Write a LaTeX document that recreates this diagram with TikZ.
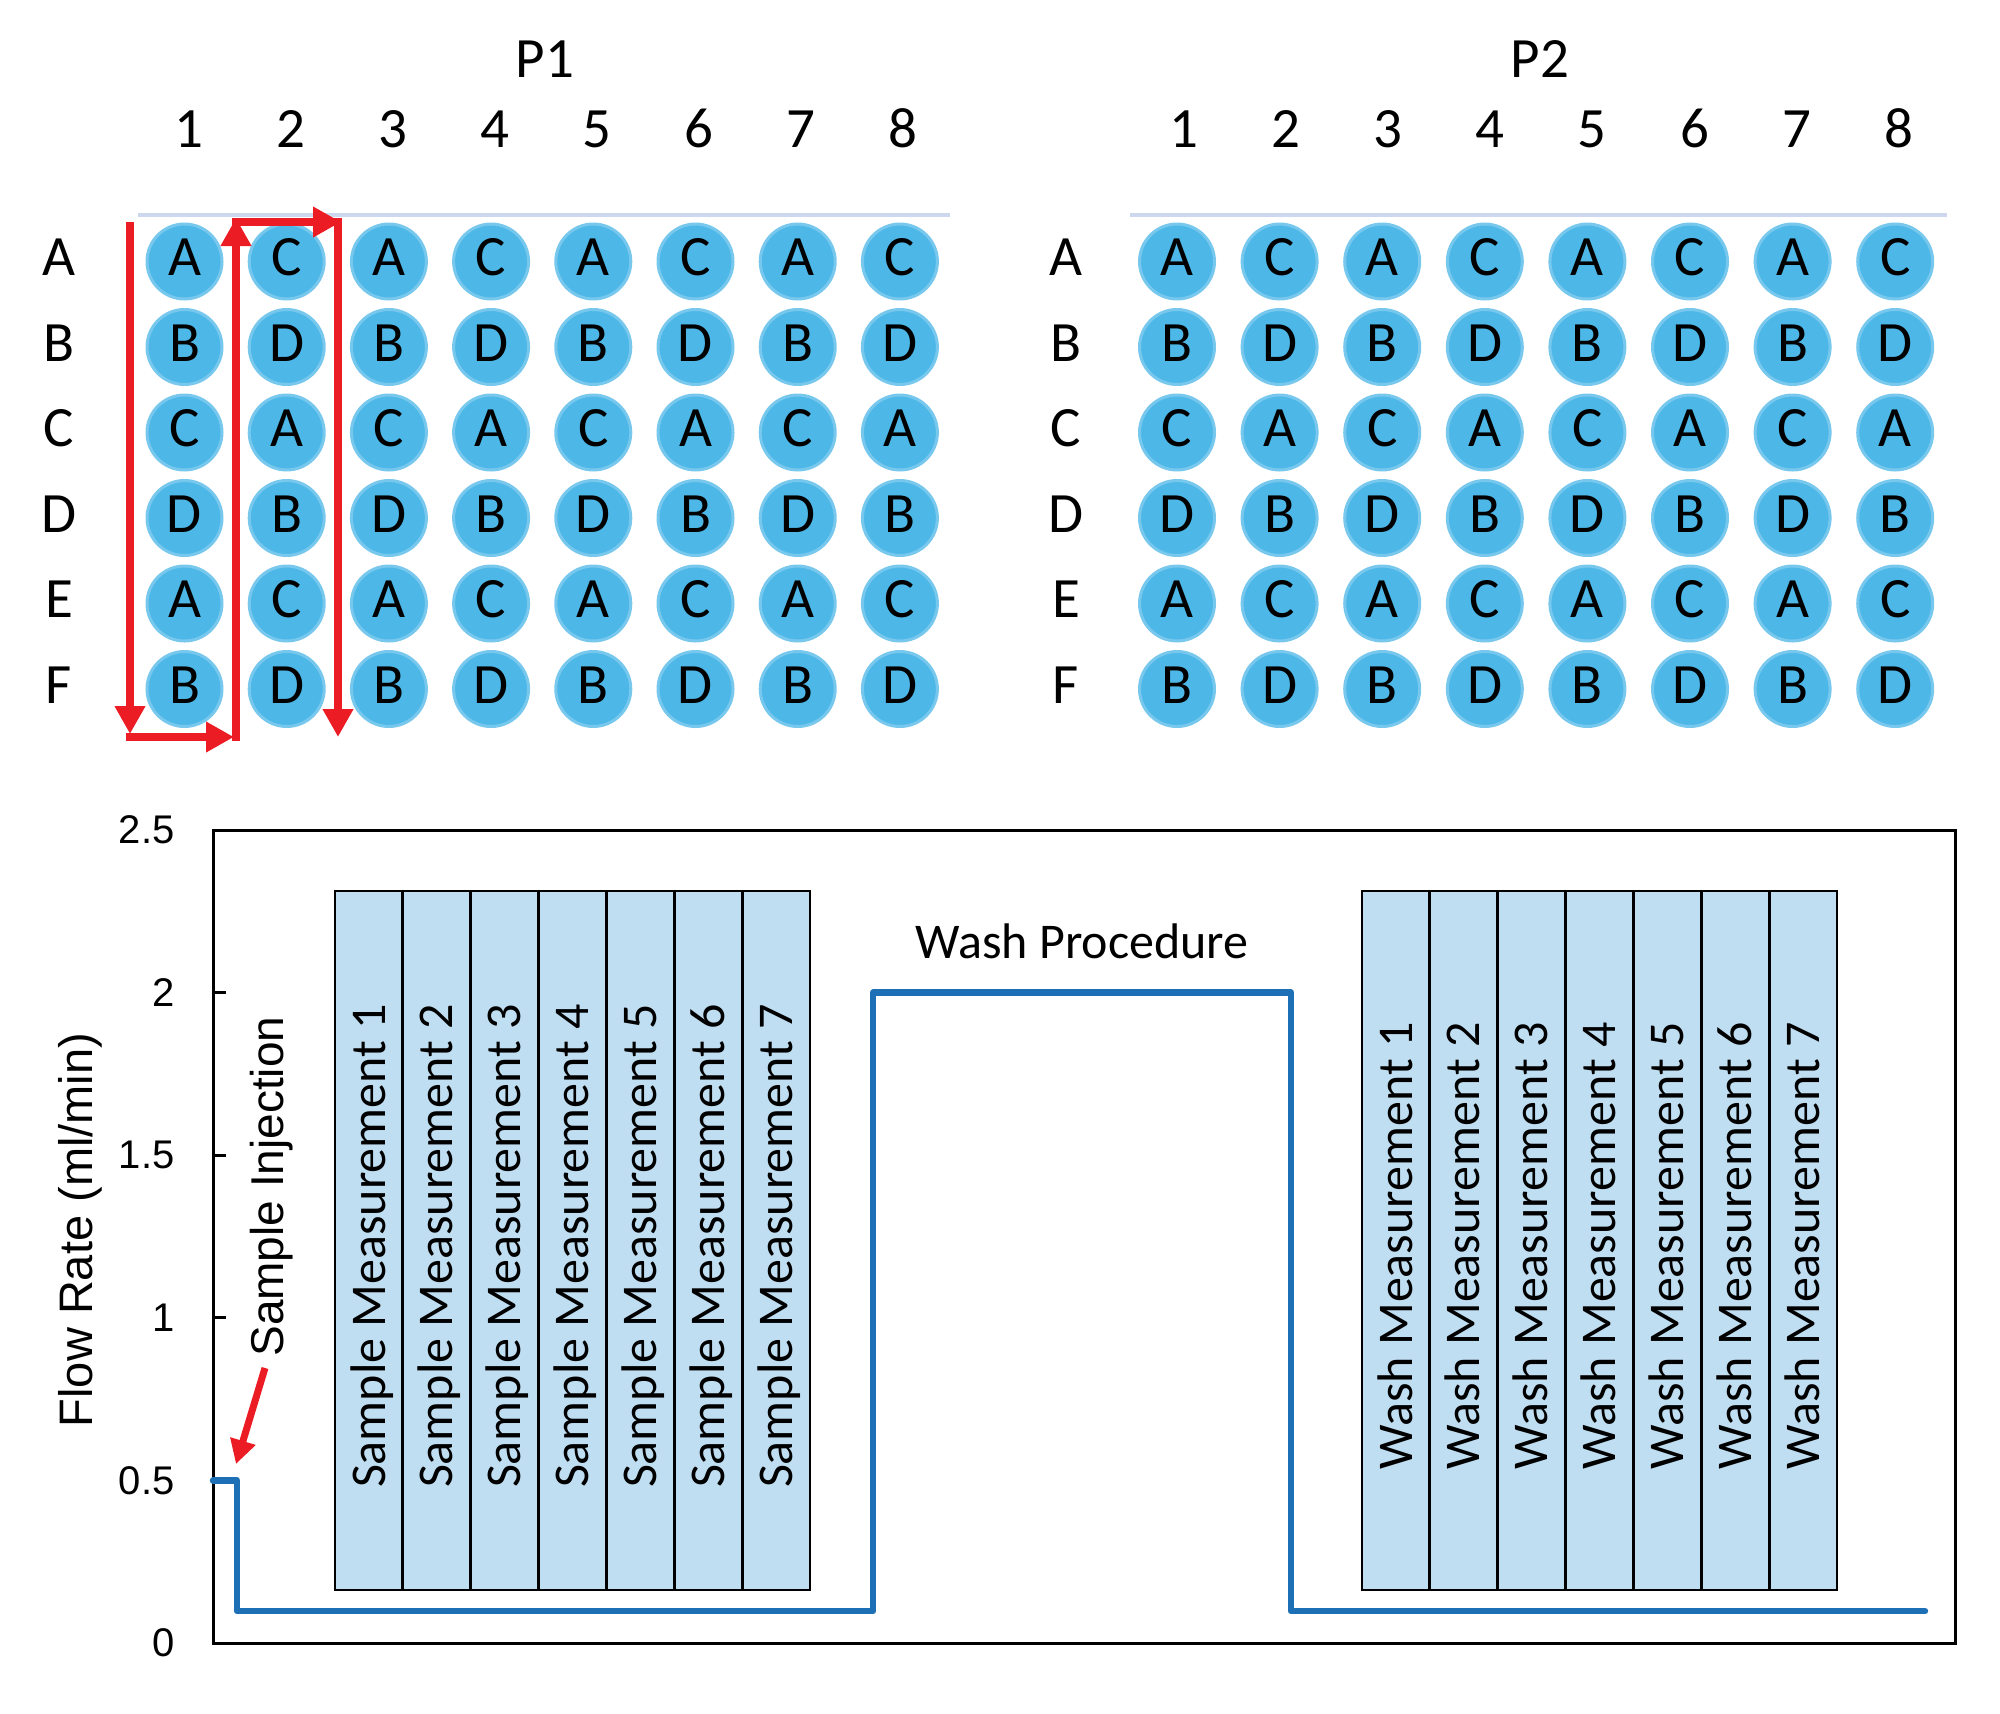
\documentclass[tikz,border=0pt]{standalone}
\usepackage{fontspec}
\setmainfont{Carlito}
\newfontfamily\arialf{Liberation Sans}
\usetikzlibrary{arrows.meta}
\definecolor{well}{RGB}{77,184,232}
\definecolor{wellrim}{RGB}{120,200,238}
\definecolor{redarr}{RGB}{236,28,36}
\definecolor{flow}{RGB}{30,112,182}
\definecolor{boxfill}{RGB}{192,222,241}
\definecolor{plateline}{RGB}{205,216,238}
\begin{document}
\begin{tikzpicture}[x=0.5pt,y=-0.5pt,
  platefont/.style={font=\fontsize{28.5}{30}\selectfont, inner sep=0pt},
  wellc/.style={circle, fill=well, draw=wellrim, line width=1.5pt, minimum size=37.5pt, inner sep=0pt},
  welll/.style={platefont, anchor=center},
  redline/.style={draw=redarr, line width=4pt, -{Triangle[length=14pt,width=14.5pt]}},
  plline/.style={draw=plateline, line width=1.6pt},
  axisbox/.style={draw=black, line width=1.5pt},
  ticklab/.style={font=\arialf\fontsize{20}{22}\selectfont, anchor=east, inner sep=0pt},
  mbox/.style={draw=black, fill=boxfill, line width=1.4pt, minimum width=33.93pt, minimum height=349.5pt, inner sep=0pt},
  mtext/.style={font=\fontsize{25}{27}\selectfont, rotate=90, anchor=base, inner sep=0pt},
  flowline/.style={draw=flow, line width=3.2pt, line cap=round, line join=round}
]
\useasboundingbox (0,0) rectangle (2000,1713);

% ---------- Plate titles ----------
\node[platefont, anchor=base] (P1) at (545,77) {P1};
\node[platefont, anchor=base] (P2) at (1540,77) {P2};

% column numbers
\foreach \c in {1,...,8}{
  \node[platefont, anchor=base] (P1col\c) at ({189+102*(\c-1)},147) {\c};
  \node[platefont, anchor=base] (P2col\c) at ({1184+102.1*(\c-1)},147) {\c};
}

% plate top lines
\coordinate (pl1a) at (138,215); \coordinate (pl1b) at (950,215);
\coordinate (pl2a) at (1130,215); \coordinate (pl2b) at (1947,215);
\draw[plline] (pl1a) -- (pl1b);
\draw[plline] (pl2a) -- (pl2b);

% rows
\foreach \r/\ry/\od/\ev in {A/261.5/A/C, B/347/B/D, C/432.5/C/A, D/518/D/B, E/603.5/A/C, F/689/B/D}{
  \node[platefont, anchor=center] (P1row\r) at (59,\ry-4) {\r};
  \node[platefont, anchor=center] (P2row\r) at (1066,\ry-4) {\r};
  \foreach \c in {1,...,8}{
    \pgfmathtruncatemacro{\parity}{mod(\c,2)}
    \ifnum\parity=1 \def\lt{\od}\else\def\lt{\ev}\fi
    \node[wellc] (P1w\r\c) at ({184.5+102.2*(\c-1)},\ry) {};
    \node[welll] at ([yshift=2pt]P1w\r\c.center) {\lt};
    \node[wellc] (P2w\r\c) at ({1177+102.6*(\c-1)},\ry) {};
    \node[welll] at ([yshift=2pt]P2w\r\c.center) {\lt};
  }
}

% red serpentine arrows
\coordinate (r1) at (130,222);
\coordinate (r2) at (130,734);
\coordinate (r2b) at (126,737);
\coordinate (r3) at (234,737);
\coordinate (r3b) at (236,741);
\coordinate (r4) at (236,218);
\coordinate (r4b) at (232,222);
\coordinate (r5) at (341,222);
\coordinate (r5b) at (338,218);
\coordinate (r6) at (338,737);
\draw[redline] (r1) -- (r2);
\draw[redline] (r2b) -- (r3);
\draw[redline] (r3b) -- (r4);
\draw[redline] (r4b) -- (r5);
\draw[redline] (r5b) -- (r6);

% ---------- Chart ----------
\coordinate (ax0) at (213,830);
\coordinate (ax1) at (1955,1643);
\draw[axisbox] (ax0) rectangle (ax1);

\foreach \v/\yy in {2.5/830, 2/992.6, 1.5/1155.2, 1/1317.8, 0.5/1480.4, 0/1643}{
  \node[ticklab] (tick\v) at (175,\yy) {\v};
}
\foreach \yy in {992.6, 1155.2, 1317.8, 1480.4}{
  \draw[black, line width=1.5pt] (213,\yy) -- (226,\yy);
}

\node[font=\arialf\fontsize{23.5}{25}\selectfont, rotate=90, anchor=center, inner sep=0pt] (ylab) at (80,1230) {Flow Rate (ml/min)};

% measurement boxes
\foreach \i in {1,...,7}{
  \node[mbox] (S\i) at ({335+67.857*(\i-0.5)},1240.5) {};
  \node[mtext] (St\i) at ({335+67.857*(\i-1)+50},1246) {Sample Measurement \i};
  \node[mbox] (W\i) at ({1362+67.857*(\i-0.5)},1240.5) {};
  \node[mtext] (Wt\i) at ({1362+67.857*(\i-1)+50},1246) {Wash Measurement \i};
}

% flow line
\coordinate (f0) at (213,1480.4);
\coordinate (f1) at (237,1480.4);
\coordinate (f2) at (237,1611);
\coordinate (f3) at (873,1611);
\coordinate (f4) at (873,992.6);
\coordinate (f5) at (1291,992.6);
\coordinate (f6) at (1291,1611);
\coordinate (f7) at (1925,1611);
\draw[flowline] (f0) -- (f1) -- (f2) -- (f3) -- (f4) -- (f5) -- (f6) -- (f7);

\node[font=\fontsize{25}{27}\selectfont, anchor=base, inner sep=0pt] (wash) at (1082,958) {Wash Procedure};

% sample injection
\node[font=\arialf\fontsize{23}{25}\selectfont, rotate=90, anchor=base west, inner sep=0pt] (sinj) at (283,1357) {Sample Injection};
\coordinate (si1) at (265,1368);
\coordinate (si2) at (236,1464);
\draw[draw=redarr, line width=3.5pt, -{Triangle[length=12pt,width=12.5pt]}] (si1) -- (si2);

\end{tikzpicture}
\end{document}
